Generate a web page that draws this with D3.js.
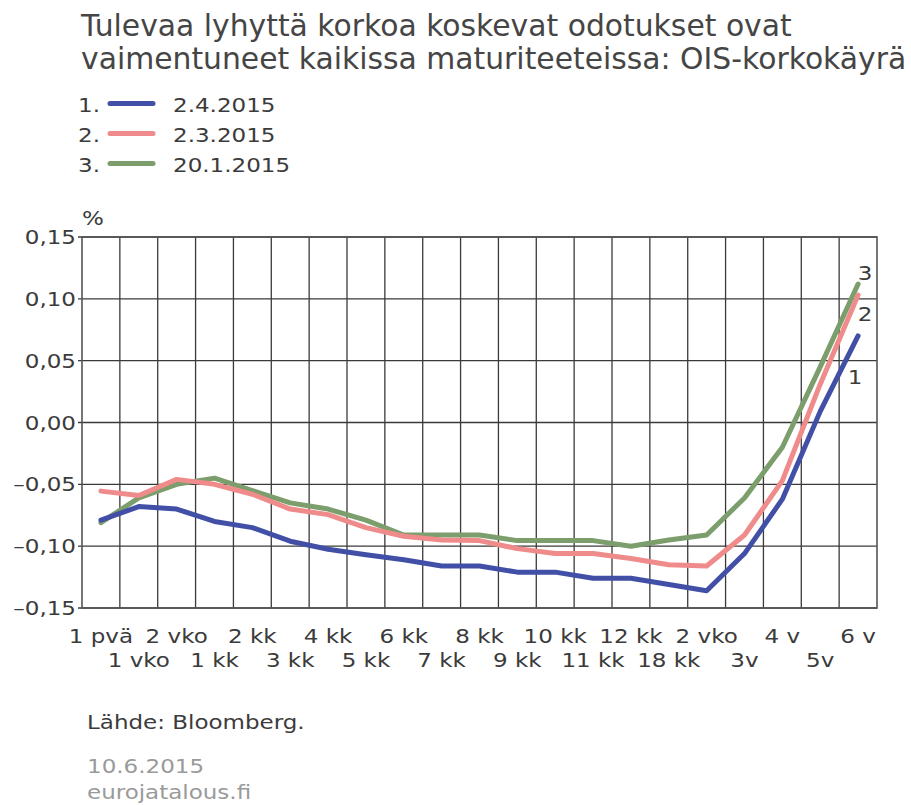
<!DOCTYPE html>
<html>
<head>
<meta charset="utf-8">
<script src="https://cdn.jsdelivr.net/npm/d3@7"></script>
<style>
  body { margin: 0; background: #fff; }
  svg { display: block; font-family: "DejaVu Sans", sans-serif; }
</style>
</head>
<body>
<svg id="chart"></svg>
<script>
// maturities along the x axis (as printed, index 16 really says "2 vko")
const categories = ["1 pvä", "1 vko", "2 vko", "1 kk", "2 kk", "3 kk", "4 kk", "5 kk", "6 kk", "7 kk",
  "8 kk", "9 kk", "10 kk", "11 kk", "12 kk", "18 kk", "2 vko", "3v", "4 v", "5v", "6 v"];

const seriesNames = ["2.4.2015", "2.3.2015", "20.1.2015"];

// OIS curve, %
const apr2 = [-0.079, -0.068, -0.070, -0.080, -0.085, -0.096, -0.1025, -0.107, -0.111, -0.116,
  -0.116, -0.121, -0.121, -0.126, -0.126, -0.131, -0.136, -0.106, -0.062, 0.009, 0.070];
const mar2 = [-0.0555, -0.059, -0.046, -0.050, -0.058, -0.070, -0.0745, -0.085, -0.092, -0.095,
  -0.0955, -0.102, -0.106, -0.106, -0.110, -0.115, -0.116, -0.091, -0.047, 0.031, 0.103];
const jan20 = [-0.081, -0.061, -0.050, -0.045, -0.055, -0.065, -0.070, -0.079, -0.091, -0.091,
  -0.091, -0.0955, -0.0955, -0.0955, -0.100, -0.095, -0.091, -0.061, -0.020, 0.045, 0.112];

const yTicks = [-0.15, -0.10, -0.05, 0, 0.05, 0.10, 0.15];

const W = 911, H = 805;
const margin = { top: 237, right: 34, bottom: 197, left: 82 };
const innerW = W - margin.left - margin.right;
const innerH = H - margin.top - margin.bottom;
const SX = 1.18;            // the small texts in the original are a bit wide
const textCol = "#3b3b3b";

const series = [
  { id: 1, name: seriesNames[0], values: apr2, color: "#4150a6", lab: [-3, 48] },
  { id: 2, name: seriesNames[1], values: mar2, color: "#f08b8b", lab: [7, 26] },
  { id: 3, name: seriesNames[2], values: jan20, color: "#7c9e6c", lab: [7, -4] }
];

const svg = d3.select("#chart").attr("width", W).attr("height", H);

// title
const title = svg.append("text")
  .attr("x", 81).attr("y", 36)
  .attr("fill", "#454545")
  .style("font-size", "29.8px");
title.append("tspan").attr("x", 81).attr("y", 36).text("Tulevaa lyhyttä korkoa koskevat odotukset ovat");
title.append("tspan").attr("x", 81).attr("y", 68.5).text("vaimentuneet kaikissa maturiteeteissa: OIS-korkokäyrä");

function wideText(parent, x, y, str, anchor, fill) {
  return parent.append("text")
    .attr("transform", `translate(${x},${y}) scale(${SX},1)`)
    .attr("text-anchor", anchor || "start")
    .attr("fill", fill || textCol)
    .style("font-size", "19.5px")
    .text(str);
}

// legend
const legend = svg.append("g").attr("transform", "translate(0,112)");
series.forEach((s, i) => {
  const row = legend.append("g").attr("transform", `translate(0,${i * 30})`);
  wideText(row, 78, 0, s.id + ".");
  row.append("line")
    .attr("x1", 110).attr("x2", 153)
    .attr("y1", -8.5).attr("y2", -8.5)
    .attr("stroke", s.color)
    .attr("stroke-width", 5)
    .attr("stroke-linecap", "round");
  wideText(row, 173, 0, s.name);
});

const g = svg.append("g").attr("transform", `translate(${margin.left},${margin.top})`);

const x = d3.scaleBand()
  .domain(d3.range(categories.length))
  .range([0, innerW])
  .paddingInner(0).paddingOuter(0);
const cx = i => x(i) + x.bandwidth() / 2;

const y = d3.scaleLinear().domain([-0.15, 0.15]).range([innerH, 0]);

// grid
const gridCol = "#3a3a3a";
g.append("g").selectAll("line.v")
  .data(d3.range(1, categories.length))
  .join("line")
  .attr("x1", i => x(i)).attr("x2", i => x(i))
  .attr("y1", 0).attr("y2", innerH)
  .attr("stroke", gridCol).attr("stroke-width", 1.3);

g.append("g").selectAll("line.h")
  .data(yTicks)
  .join("line")
  .attr("x1", -4).attr("x2", innerW)
  .attr("y1", d => y(d)).attr("y2", d => y(d))
  .attr("stroke", gridCol).attr("stroke-width", 1.3);

g.append("rect")
  .attr("width", innerW).attr("height", innerH)
  .attr("fill", "none")
  .attr("stroke", "#555").attr("stroke-width", 1.6);

// y labels
const fmt = d => d3.format(".2f")(Math.abs(d)).replace(".", ",");
yTicks.forEach(d => {
  wideText(g, -6, y(d) + 7, (d < -1e-9 ? "–" : "") + fmt(d), "end");
});
wideText(g, 0, -12, "%", "start");

// x labels, two staggered rows
categories.forEach((c, i) => {
  wideText(g, cx(i), innerH + (i % 2 === 0 ? 34.5 : 59), c, "middle");
});

// lines
const line = d3.line()
  .x((d, i) => cx(i))
  .y(d => y(d));

g.append("g").selectAll("path")
  .data(series.slice().reverse())
  .join("path")
  .attr("d", s => line(s.values))
  .attr("fill", "none")
  .attr("stroke", s => s.color)
  .attr("stroke-width", 5)
  .attr("stroke-linejoin", "round")
  .attr("stroke-linecap", "round");

// end labels
series.forEach(s => {
  const last = s.values.length - 1;
  wideText(g, cx(last) + s.lab[0], y(s.values[last]) + s.lab[1], String(s.id), "middle");
});

// source & footer
wideText(svg, 87, 729, "Lähde: Bloomberg.");
wideText(svg, 87, 773, "10.6.2015", "start", "#9a9a9a");
wideText(svg, 87, 799, "eurojatalous.fi", "start", "#9a9a9a");
</script>
</body>
</html>
